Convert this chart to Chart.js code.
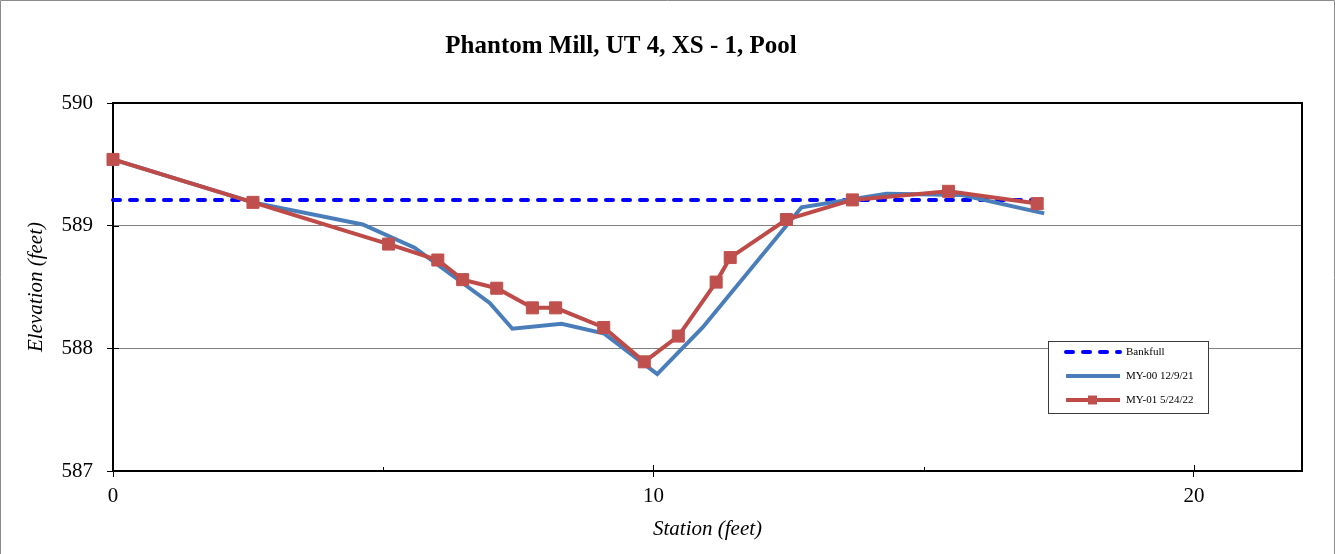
<!DOCTYPE html>
<html>
<head>
<meta charset="utf-8">
<title>Phantom Mill, UT 4, XS - 1, Pool</title>
<script src="https://cdn.jsdelivr.net/npm/chart.js@4/dist/chart.umd.min.js"></script>
<style>
    html, body { margin: 0; padding: 0; background: #fff; }
    canvas { display: block; }
</style>
</head>
<body>
<canvas id="xsChart" width="1335" height="554"></canvas>
<script>
// Survey data: station (ft) / elevation (ft)
const bankfullStation = [0, 17.23];
const bankfullElev = [589.21, 589.21];

const my00Station = [0, 2.59, 4.62, 5.58, 6.97, 7.39, 8.30, 9.09, 10.07, 10.91, 12.74, 14.31, 15.71, 17.23];
const my00Elev = [589.54, 589.19, 589.01, 588.82, 588.37, 588.16, 588.20, 588.12, 587.79, 588.17, 589.15, 589.26, 589.25, 589.10];

const my01Station = [0, 2.59, 5.10, 6.01, 6.47, 7.10, 7.76, 8.19, 9.08, 9.83, 10.46, 11.16, 11.42, 12.46, 13.68, 15.46, 17.10];
const my01Elev = [589.54, 589.19, 588.85, 588.72, 588.56, 588.49, 588.33, 588.33, 588.17, 587.89, 588.10, 588.54, 588.74, 589.05, 589.21, 589.28, 589.18];

const seriesLabels = ['Bankfull', 'MY-00 12/9/21', 'MY-01 5/24/22'];
const xTickValues = [0, 10, 20];
const xMinorTicks = [5, 15];
const chartTitle = 'Phantom Mill, UT 4, XS - 1, Pool';

const SERIF = '"Liberation Serif", "Times New Roman", serif';

function toPoints(xs, ys) {
    return xs.map((x, i) => ({ x: x, y: ys[i] }));
}

// white page, outer frame, plot frame, inner tick marks, title and legend
const framePlugin = {
    id: 'frame',
    beforeDraw(chart) {
        const ctx = chart.ctx;
        ctx.save();
        ctx.fillStyle = '#fff';
        ctx.fillRect(0, 0, chart.width, chart.height);
        ctx.restore();
    },
    afterDraw(chart) {
        const { ctx, chartArea: a, scales } = chart;
        ctx.save();

        // outer border
        ctx.strokeStyle = '#8c8c8c';
        ctx.lineWidth = 1;
        ctx.beginPath();
        ctx.moveTo(0.5, chart.height);
        ctx.lineTo(0.5, 0.5);
        ctx.lineTo(chart.width - 0.5, 0.5);
        ctx.lineTo(chart.width - 0.5, chart.height);
        ctx.stroke();

        // top and right edges of plot area
        ctx.strokeStyle = '#000';
        ctx.lineWidth = 2;
        ctx.beginPath();
        ctx.moveTo(a.left, a.top);
        ctx.lineTo(a.right, a.top);
        ctx.lineTo(a.right, a.bottom);
        ctx.stroke();

        // tick marks reaching inside the plot
        ctx.lineWidth = 1;
        ctx.beginPath();
        xTickValues.forEach(v => {
            const px = Math.round(scales.x.getPixelForValue(v)) + 0.5;
            ctx.moveTo(px, a.bottom);
            ctx.lineTo(px, a.bottom - 6);
        });
        xMinorTicks.forEach(v => {
            const px = Math.round(scales.x.getPixelForValue(v)) + 0.5;
            ctx.moveTo(px, a.bottom);
            ctx.lineTo(px, a.bottom - 4);
        });
        scales.y.ticks.forEach(t => {
            const py = Math.round(scales.y.getPixelForValue(t.value)) + 0.5;
            ctx.moveTo(a.left, py);
            ctx.lineTo(a.left + 6, py);
        });
        ctx.stroke();

        // title
        ctx.fillStyle = '#000';
        ctx.font = 'bold 25px ' + SERIF;
        ctx.textAlign = 'center';
        ctx.textBaseline = 'alphabetic';
        ctx.fillText(chartTitle, 621, 53);

        // legend box
        const lx = a.right - 254, ly = a.top + 238, lw = 160, lh = 72;
        ctx.fillStyle = '#fff';
        ctx.fillRect(lx, ly, lw, lh);
        ctx.strokeStyle = '#3a3a3a';
        ctx.lineWidth = 1;
        ctx.strokeRect(lx + 0.5, ly + 0.5, lw, lh);

        ctx.font = '11px ' + SERIF;
        ctx.textAlign = 'left';
        ctx.textBaseline = 'middle';
        chart.data.datasets.forEach((ds, i) => {
            const rowY = ly + 11 + i * 24;
            ctx.save();
            ctx.strokeStyle = ds.borderColor;
            ctx.lineWidth = ds.borderWidth;
            ctx.lineCap = ds.borderCapStyle || 'butt';
            ctx.setLineDash(ds.borderDash || []);
            ctx.beginPath();
            ctx.moveTo(lx + 18, rowY);
            ctx.lineTo(lx + 72, rowY);
            ctx.stroke();
            ctx.restore();
            if (ds.pointRadius > 0) {
                ctx.fillStyle = ds.pointBackgroundColor;
                ctx.fillRect(lx + 40, rowY - 4.5, 9, 9);
            }
            ctx.fillStyle = '#000';
            ctx.fillText(ds.label, lx + 78, rowY);
        });

        ctx.restore();
    }
};

const ctx = document.getElementById('xsChart').getContext('2d');

new Chart(ctx, {
    type: 'line',
    data: {
        datasets: [
            {
                label: seriesLabels[0],
                data: toPoints(bankfullStation, bankfullElev),
                borderColor: '#0000ff',
                borderWidth: 4,
                borderDash: [7, 10],
                borderCapStyle: 'round',
                pointRadius: 0,
                clip: false,
                order: 3
            },
            {
                label: seriesLabels[1],
                data: toPoints(my00Station, my00Elev),
                borderColor: '#4a7ebb',
                borderWidth: 4,
                pointRadius: 0,
                clip: false,
                order: 2
            },
            {
                label: seriesLabels[2],
                data: toPoints(my01Station, my01Elev),
                borderColor: '#be4b48',
                borderWidth: 4,
                pointStyle: 'rect',
                pointRadius: 8.5,
                pointBackgroundColor: '#c0504d',
                pointBorderColor: '#c0504d',
                pointBorderWidth: 1,
                clip: false,
                order: 1
            }
        ]
    },
    options: {
        responsive: false,
        animation: false,
        layout: { padding: { top: 103, right: 33, left: 0, bottom: 0 } },
        plugins: {
            legend: { display: false },
            title: { display: false },
            tooltip: { enabled: false }
        },
        scales: {
            x: {
                type: 'linear',
                min: 0,
                max: 22,
                afterBuildTicks: scale => {
                    scale.ticks = xTickValues.map(v => ({ value: v }));
                },
                afterFit: scale => { scale.height = 83; },
                grid: { drawOnChartArea: false, tickLength: 6, tickColor: '#000' },
                border: { color: '#000', width: 2 },
                ticks: {
                    color: '#000',
                    font: { family: SERIF, size: 21 },
                    padding: 7,
                    maxRotation: 0
                },
                title: {
                    display: true,
                    text: 'Station (feet)',
                    color: '#000',
                    font: { family: SERIF, size: 21, style: 'italic' },
                    padding: { top: 0, bottom: 12 }
                }
            },
            y: {
                min: 587,
                max: 590,
                afterFit: scale => { scale.width = 113; },
                grid: { color: '#808080', lineWidth: 1, tickLength: 6, tickColor: '#000' },
                border: { color: '#000', width: 2 },
                ticks: {
                    stepSize: 1,
                    color: '#000',
                    font: { family: SERIF, size: 21 },
                    padding: 14
                },
                title: {
                    display: true,
                    text: 'Elevation (feet)',
                    color: '#000',
                    font: { family: SERIF, size: 21, style: 'italic' },
                    padding: { top: 24, bottom: 0 }
                }
            }
        }
    },
    plugins: [framePlugin]
});
</script>
</body>
</html>
